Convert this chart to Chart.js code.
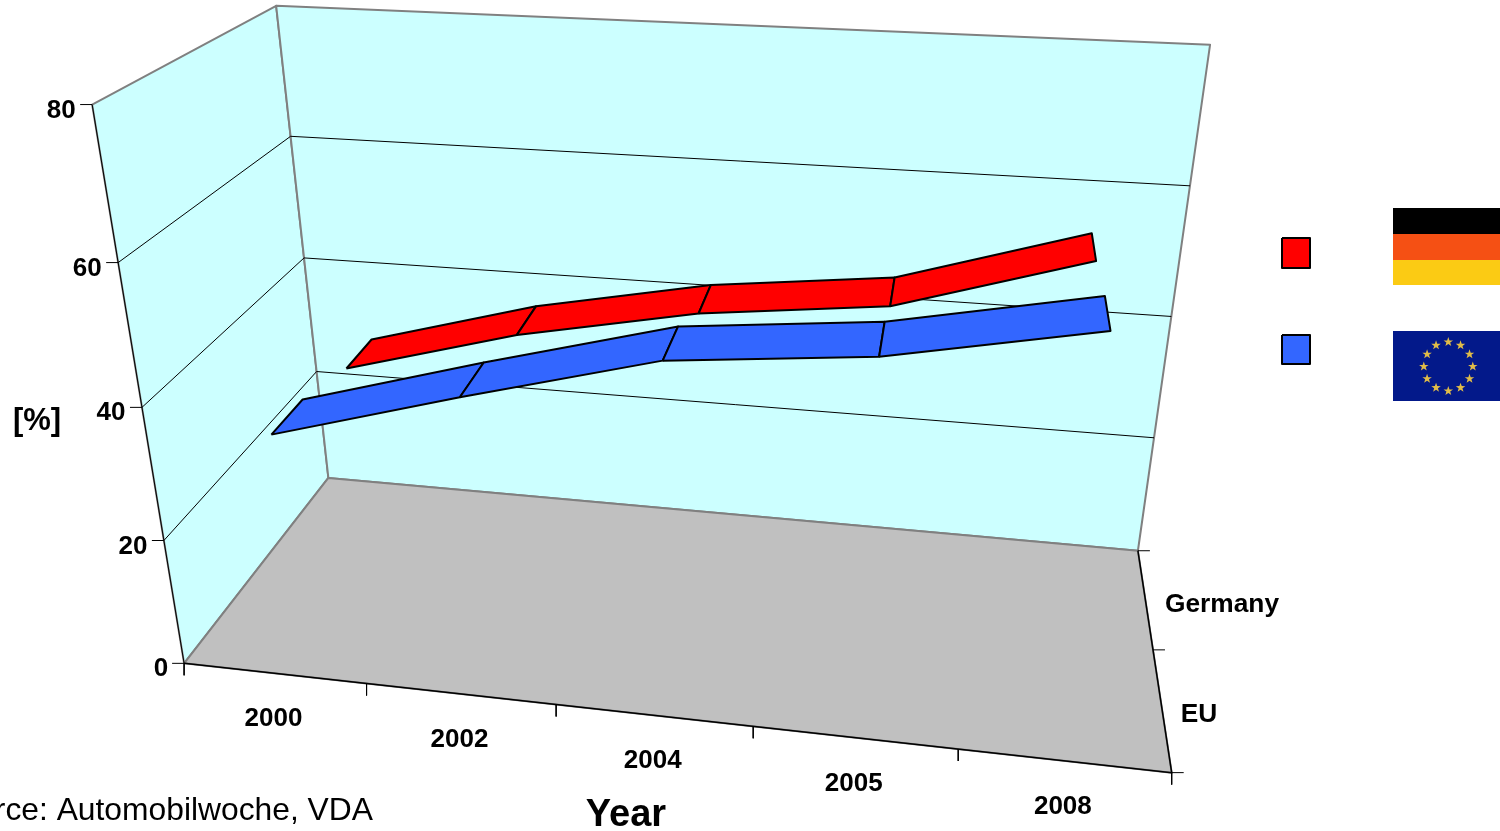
<!DOCTYPE html>
<html>
<head>
<meta charset="utf-8">
<title>Share chart</title>
<script src="https://cdn.jsdelivr.net/npm/chart.js@4/dist/chart.umd.min.js"></script>
<style>
  html, body { margin: 0; padding: 0; background: #fff; overflow: hidden; }
  canvas { display: block; }
</style>
</head>
<body>
<canvas id="chart" width="1500" height="831"></canvas>
<script>
const years = ['2000', '2002', '2004', '2005', '2008'];
const seriesNames = ['Germany', 'EU'];
const germany = [30.4, 38, 43.4, 46.5, 55];
const eu = [33.1, 41, 48.4, 51.1, 56.6];
const valueTicks = [0, 20, 40, 60, 80];

// where the corners of the 3d box land on the page [u, value, w, x, y]
const calib = [
    [0, 0, 0, 185, 663], [1, 0, 0, 1172, 772], [0, 0, 1, 328, 478], [1, 0, 1, 1138, 551],
    [0, 80, 0, 93, 104], [0, 80, 1, 276, 6], [1, 80, 1, 1210, 44],
    [0, 20, 0, 163, 541], [0, 40, 0, 141, 407], [0, 60, 0, 118, 264],
    [0, 20, 1, 317, 371], [0, 40, 1, 304, 258], [0, 60, 1, 291, 136],
    [1, 20, 1, 1154, 438], [1, 40, 1, 1171, 317], [1, 60, 1, 1190, 186]
];

function solve(A, b) {
    const n = b.length;
    for (let i = 0; i < n; i++) {
        let p = i;
        for (let r = i + 1; r < n; r++) if (Math.abs(A[r][i]) > Math.abs(A[p][i])) p = r;
        [A[i], A[p]] = [A[p], A[i]];
        [b[i], b[p]] = [b[p], b[i]];
        for (let r = i + 1; r < n; r++) {
            const f = A[r][i] / A[i][i];
            for (let c = i; c < n; c++) A[r][c] -= f * A[i][c];
            b[r] -= f * b[i];
        }
    }
    const x = new Array(n).fill(0);
    for (let i = n - 1; i >= 0; i--) {
        let s = b[i];
        for (let c = i + 1; c < n; c++) s -= A[i][c] * x[c];
        x[i] = s / A[i][i];
    }
    return x;
}

// least squares fit of the perspective camera
function fitCamera() {
    const N = Array.from({length: 11}, () => new Array(11).fill(0));
    const r = new Array(11).fill(0);
    const add = (row, y) => {
        for (let i = 0; i < 11; i++) {
            r[i] += row[i] * y;
            for (let j = 0; j < 11; j++) N[i][j] += row[i] * row[j];
        }
    };
    calib.forEach(([u, val, w, x, y]) => {
        const v = val / 80, X = x / 1000, Y = y / 1000;
        add([u, v, w, 1, 0, 0, 0, 0, -X * u, -X * v, -X * w], X);
        add([0, 0, 0, 0, u, v, w, 1, -Y * u, -Y * v, -Y * w], Y);
    });
    return solve(N, r);
}
const cam = fitCamera();

function project(u, val, w) {
    const v = val / 80;
    const d = cam[8] * u + cam[9] * v + cam[10] * w + 1;
    return {
        x: 1000 * (cam[0] * u + cam[1] * v + cam[2] * w + cam[3]) / d,
        y: 1000 * (cam[4] * u + cam[5] * v + cam[6] * w + cam[7]) / d
    };
}

function poly(points, fill, stroke, width) {
    return {
        data: points,
        fill: fill ? 'shape' : false,
        backgroundColor: fill || 'transparent',
        borderColor: stroke || fill,
        borderWidth: width === undefined ? 1 : width,
        borderJoinStyle: 'round',
        pointRadius: 0,
        tension: 0
    };
}
function closed(...pts) { return pts.concat([pts[0]]); }

const GRAY = '#808080';
const layers = [];
layers.push(poly(closed(project(0,0,0), project(0,80,0), project(0,80,1), project(0,0,1)), '#ccffff', GRAY, 2));
layers.push(poly(closed(project(0,0,1), project(0,80,1), project(1,80,1), project(1,0,1)), '#ccffff', GRAY, 2));
layers.push(poly(closed(project(0,0,0), project(0,0,1), project(1,0,1), project(1,0,0)), '#c0c0c0', GRAY, 2));
layers.push(poly([project(0,0,0), project(1,0,0), project(1,0,1)], null, '#000', 1.5));
layers.push(poly([project(0,0,0), project(0,80,0)], null, '#000', 1));
valueTicks.slice(1, -1).forEach(t => layers.push(poly([project(0,t,0), project(0,t,1), project(1,t,1)], null, '#000', 1)));
valueTicks.forEach(t => {
    const p = project(0, t, 0);
    layers.push(poly([p, {x: p.x - 12, y: p.y}], null, '#000', 1));
});
for (let i = 0; i <= years.length; i++) {
    const p = project(i / years.length, 0, 0);
    layers.push(poly([p, {x: p.x, y: p.y + 12}], null, '#000', 1));
}
[0, .5, 1].forEach(w => {
    const p = project(1, 0, w);
    layers.push(poly([p, {x: p.x + 12, y: p.y}], null, '#000', 1));
});

const ribbons = [[germany, '#ff0000', .65, .85], [eu, '#3366ff', .15, .35]];
ribbons.forEach(([vals, color, w0, w1]) => {
    for (let i = 0; i < vals.length - 1; i++) {
        const u0 = (i + .5) / years.length, u1 = (i + 1.5) / years.length;
        layers.push(poly(closed(project(u0, vals[i], w0), project(u0, vals[i], w1), project(u1, vals[i + 1], w1), project(u1, vals[i + 1], w0)), color, '#000', 2));
    }
});

const rect = (x0, y0, x1, y1) => closed({x: x0, y: y0}, {x: x1, y: y0}, {x: x1, y: y1}, {x: x0, y: y1});
layers.push(poly(rect(1282, 238, 1310, 268), '#ff0000', '#000', 2));
layers.push(poly(rect(1282, 335, 1310, 364), '#3366ff', '#000', 2));
layers.push(poly(rect(1393, 208, 1500, 234), '#000000', null, 0));
layers.push(poly(rect(1393, 234, 1500, 260), '#f55014', null, 0));
layers.push(poly(rect(1393, 260, 1500, 285), '#fbcb14', null, 0));
layers.push(poly(rect(1393, 331, 1500, 401), '#03198a', null, 0));

const textPlugin = {
    id: 'labels3d',
    afterDraw(chart) {
        const ctx = chart.ctx;
        ctx.save();
        ctx.fillStyle = '#000';
        ctx.textAlign = 'center';
        ctx.textBaseline = 'alphabetic';
        ctx.font = 'bold 26px "Liberation Sans"';
        valueTicks.forEach(t => {
            const p = project(0, t, 0);
            ctx.fillText(String(t), p.x - 23 - (t === 0 ? 0 : 8), p.y + 13);
        });
        years.forEach((y, i) => {
            const p = project((i + .5) / years.length, 0, 0);
            ctx.fillText(y, p.x - 1, p.y + 53);
        });
        ctx.font = 'bold 26.3px "Liberation Sans"';
        ctx.fillText(seriesNames[0], 1222, 612);
        ctx.fillText(seriesNames[1], 1199, 722);
        ctx.font = 'bold 31px "Liberation Sans"';
        ctx.fillText('[%]', 37, 430);
        ctx.font = 'bold 38px "Liberation Sans"';
        ctx.fillText('Year', 626, 826);
        ctx.font = '31.8px "Liberation Sans"';
        ctx.textAlign = 'right';
        ctx.fillText('Source: Automobilwoche, VDA', 373, 820);
        // eu flag stars
        ctx.fillStyle = '#e0bc48';
        for (let k = 0; k < 12; k++) {
            const a = k * Math.PI / 6;
            const cx = 1448.3 + 24.5 * Math.cos(a), cy = 366.5 + 24.5 * Math.sin(a);
            ctx.beginPath();
            for (let j = 0; j < 10; j++) {
                const r = j % 2 ? 2 : 5, b = -Math.PI / 2 + j * Math.PI / 5;
                ctx.lineTo(cx + r * Math.cos(b), cy + r * Math.sin(b));
            }
            ctx.closePath();
            ctx.fill();
        }
        ctx.restore();
    }
};

new Chart(document.getElementById('chart'), {
    type: 'line',
    data: { datasets: layers.slice().reverse() },
    options: {
        responsive: false,
        animation: false,
        layout: { padding: 0 },
        plugins: { legend: { display: false }, tooltip: { enabled: false } },
        scales: {
            x: { type: 'linear', min: 0, max: 1500, display: false },
            y: { type: 'linear', min: 0, max: 831, reverse: true, display: false }
        }
    },
    plugins: [textPlugin]
});
</script>
</body>
</html>
